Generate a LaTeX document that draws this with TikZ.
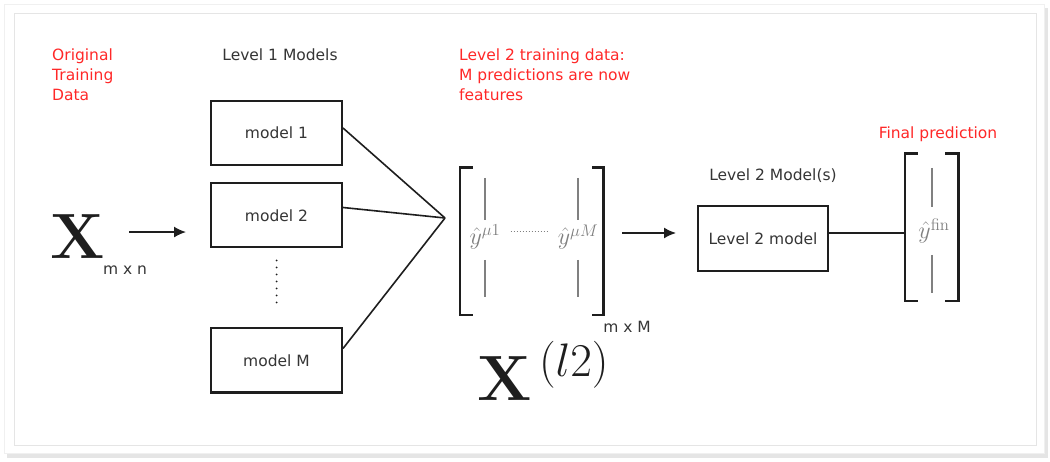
\RequirePackage{fix-cm}
\documentclass[tikz,border=0pt]{standalone}
\usepackage[no-math]{fontspec}
\usepackage{amsmath}
\newfontfamily\labelfont{DejaVu Sans}
\usetikzlibrary{arrows.meta}
\definecolor{notered}{RGB}{255,40,40}
\definecolor{ink}{RGB}{30,30,30}
\definecolor{fade}{RGB}{128,128,128}

\begin{document}
\begin{tikzpicture}[x=1pt,y=-1pt,
  lbl/.style={font=\labelfont\fontsize{15.5}{20}\selectfont, text=ink!90, inner sep=0pt},
  note/.style={lbl, text=notered, align=left},
  model/.style={draw=ink, line width=2pt, minimum width=131pt, minimum height=64pt,
    font=\labelfont\fontsize{15.5}{20}\selectfont, text=ink!90},
  conn/.style={draw=ink, line width=1.6pt},
  arr/.style={conn, -{Latex[length=12pt,width=11pt]}},
  brk/.style={draw=ink, line width=2.6pt},
  col/.style={draw=fade, line width=1.4pt},
  bigx/.style={font=\fontsize{64}{70}\selectfont, inner sep=0pt, text=ink},
  yhat/.style={font=\fontsize{24}{28}\selectfont, text=fade, inner sep=0pt}]

\useasboundingbox (0,0) rectangle (1050,462);
\fill[black!10] (7,8) rectangle (1048,458);
\filldraw[fill=white, draw=black!6] (4,4) rectangle (1044,453);
\draw[black!10, line width=0.8pt] (14,13) rectangle (1036,445);

\node[note, anchor=north west] (orig) at (52,49) {Original\\Training\\Data};
\node[lbl, anchor=base] (lvl1) at (280,61) {Level 1 Models};
\node[note, anchor=north west] (l2data) at (459,49) {Level 2 training data:\\M predictions are now\\features};
\node[lbl, anchor=base] (lvl2) at (773,181) {Level 2 Model(s)};
\node[note, anchor=base] (final) at (938,139) {Final prediction};

\node[bigx, anchor=base] (xin) at (78,259) {$\mathbf{X}$};
\node[lbl] (xdim) at (125,270) {m x n};

\node[model] (m1) at (276.5,133) {model 1};
\node[model] (m2) at (276.5,215.5) {model 2};
\node[model] (mM) at (276.5,360.5) {model M};
\draw[ink, line width=2pt, dash pattern=on 0pt off 7pt, line cap=round, shorten <=12pt, shorten >=19pt] (m2.south) -- (mM.north);

\coordinate (hub) at (445,218);
\foreach \m/\s in {m1/5,m2/8,mM/12}
  \draw[conn] ([yshift=\s pt]\m.east) -- (hub);

\node[minimum width=143pt, minimum height=147pt, inner sep=0pt] (mat) at (531.5,241.5) {};
\draw[brk] ([xshift=13pt]mat.north west) -| (mat.south west) -- ++(13,0);
\draw[brk] ([xshift=-11pt]mat.north east) -| (mat.south east) -- ++(-11,0);
\node[yhat] (ya) at (485,237) {$\hat{y}^{\mu 1}$};
\node[yhat] (yb) at (578,237) {$\hat{y}^{\mu M}$};
\foreach \c in {ya,yb} {
  \draw[col] ([yshift=59pt]\c.center) -- ([yshift=17pt]\c.center);
  \draw[col] ([yshift=-23pt]\c.center) -- ([yshift=-60pt]\c.center);
}
\draw[fade, line width=1pt, dash pattern=on 1pt off 2pt, shorten <=10pt, shorten >=10pt] ([yshift=5pt]ya.east) -- ([yshift=5pt]yb.west);
\node[lbl] (l2dim) at (627,327) {m x M};
\node[bigx, anchor=base west] (xl2) at (477,400) {$\mathbf{X}^{\,\mbox{\fontsize{47}{50}\selectfont$(l2)$}}$};

\node[model, minimum width=130pt, minimum height=65pt] (l2) at (763,238.5) {Level 2 model};

\node[minimum width=53pt, minimum height=147pt, inner sep=0pt] (fin) at (931.5,227.5) {};
\draw[brk] ([xshift=13pt]fin.north west) -| (fin.south west) -- ++(13,0);
\draw[brk] ([xshift=-13pt]fin.north east) -| (fin.south east) -- ++(-13,0);
\node[yhat] (yf) at (934,231) {$\hat{y}^{\mathrm{fin}}$};
\draw[col] ([xshift=-2pt,yshift=63pt]yf.center) -- ([xshift=-2pt,yshift=24pt]yf.center);
\draw[col] ([xshift=-2pt,yshift=-24pt]yf.center) -- ([xshift=-2pt,yshift=-62pt]yf.center);

\draw[arr, shorten <=24pt, shorten >=24pt] ([yshift=5pt]xin.east) -- ([yshift=5pt]xin.east -| m2.west);
\draw[arr, shorten <=19pt, shorten >=21pt] ([yshift=8.5pt]mat.east) -- ([yshift=8.5pt]mat.east -| l2.west);
\draw[conn] ([yshift=5.5pt]l2.east) -- ([yshift=5.5pt]l2.east -| fin.west);
\end{tikzpicture}
\end{document}
